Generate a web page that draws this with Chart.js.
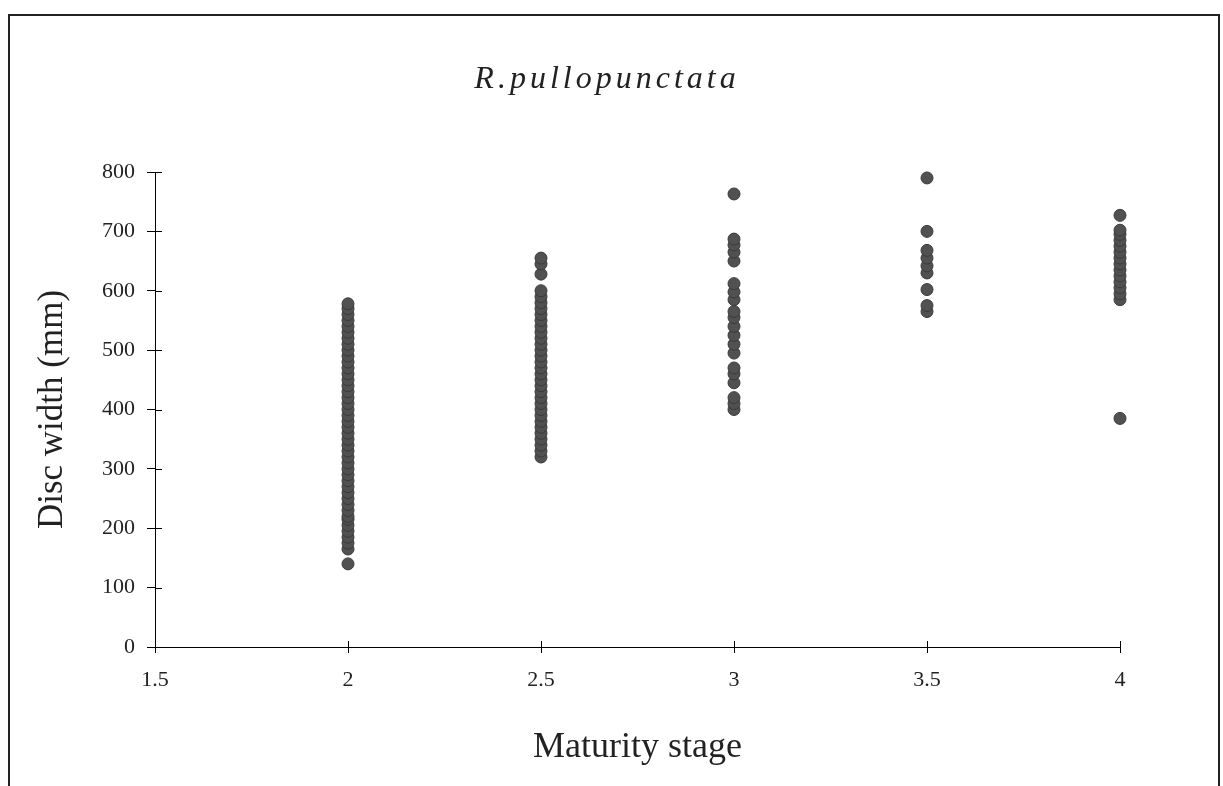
<!DOCTYPE html>
<html>
<head>
<meta charset="utf-8">
<style>
  html, body { margin: 0; padding: 0; background: #fff; }
  #wrap { width: 1223px; height: 786px; position: relative; }
</style>
<script src="https://cdn.jsdelivr.net/npm/chart.js@4"></script>
</head>
<body>
<div id="wrap"><canvas id="myChart" width="1223" height="786"></canvas></div>
<script>
// maturity stages (x) and disc widths (y)
let stages = [2, 2.5, 3, 3.5, 4]
let stage2 = [140, 165, 175, 185, 195, 205, 215, 220, 230, 240, 250, 260, 270, 280, 290, 300, 310, 320, 330, 340, 350, 360, 370, 380, 390, 400, 410, 420, 430, 440, 450, 460, 470, 480, 490, 500, 510, 520, 530, 540, 550, 560, 570, 578]
let stage25 = [320, 330, 340, 350, 360, 370, 380, 390, 400, 410, 420, 430, 440, 450, 460, 470, 480, 490, 500, 510, 520, 530, 540, 550, 560, 570, 580, 590, 600, 628, 645, 655]
let stage3 = [400, 410, 420, 445, 460, 470, 495, 510, 525, 540, 555, 565, 585, 598, 612, 650, 665, 677, 687, 763]
let stage35 = [565, 575, 602, 630, 642, 655, 668, 700, 790]
let stage4 = [385, 585, 595, 605, 615, 625, 635, 645, 655, 665, 675, 685, 695, 702, 727]

let xTicks = [1.5, 2, 2.5, 3, 3.5, 4]
let yTicks = [0, 100, 200, 300, 400, 500, 600, 700, 800]
let chartTitle = 'R.pullopunctata'

let groups = [stage2, stage25, stage3, stage35, stage4]
let points = []
groups.forEach((vals, i) => {
  for (let v of vals) points.push({ x: stages[i], y: v })
})

const serif = "'Liberation Serif', 'DejaVu Serif', 'Times New Roman', serif"

// ticks in the picture cross the axis line, chart.js only draws the outer half
// title drawn by hand so it can sit off the chart-area centre with wide spacing
const extras = {
  id: 'extras',
  afterDraw(chart) {
    const c = chart.ctx
    const xs = chart.scales.x, ys = chart.scales.y
    c.save()
    c.strokeStyle = '#000'
    c.lineWidth = 1
    c.beginPath()
    for (let t of xTicks) {
      let px = Math.round(xs.getPixelForValue(t)) + 0.5
      c.moveTo(px, ys.bottom - 6)
      c.lineTo(px, ys.bottom)
    }
    for (let t of yTicks) {
      let py = Math.round(ys.getPixelForValue(t)) + 0.5
      c.moveTo(xs.left, py)
      c.lineTo(xs.left + 7, py)
    }
    c.stroke()
    // outer frame of the figure
    c.lineWidth = 2
    c.strokeStyle = '#222'
    c.strokeRect(9, 15, 1210, 800)
    // title
    c.fillStyle = '#222'
    c.font = 'italic 32px ' + serif
    c.letterSpacing = '4px'
    c.textAlign = 'center'
    c.textBaseline = 'middle'
    c.fillText(chartTitle, 607, 80)
    c.restore()
  }
}

let ctx = document.getElementById('myChart').getContext('2d')
let chart = new Chart(ctx, {
  type: 'scatter',
  data: {
    datasets: [{
      data: points,
      backgroundColor: '#515151',
      borderColor: '#3a3a3a',
      borderWidth: 1,
      pointRadius: 6,
      pointHoverRadius: 6,
      clip: false
    }]
  },
  options: {
    responsive: false,
    animation: false,
    events: [],
    layout: { padding: { left: 0, right: 103, top: 172, bottom: 0 } },
    plugins: {
      legend: { display: false },
      tooltip: { enabled: false },
      title: { display: false }
    },
    scales: {
      x: {
        type: 'linear',
        min: 1.5,
        max: 4,
        afterBuildTicks: s => { s.ticks = xTicks.map(v => ({ value: v })) },
        afterFit: s => { s.height = 139 },
        border: { display: true, color: '#000', width: 1 },
        grid: { drawOnChartArea: false, tickLength: 6, color: '#000' },
        ticks: {
          color: '#222', padding: 14, maxRotation: 0,
          font: { family: serif, size: 22 },
          callback: v => String(v)
        },
        title: {
          display: true,
          text: 'Maturity stage',
          color: '#222',
          font: { family: serif, size: 36 },
          padding: { top: 0, bottom: 17 }
        }
      },
      y: {
        min: 0,
        max: 800,
        afterBuildTicks: s => { s.ticks = yTicks.map(v => ({ value: v })) },
        afterFit: s => { s.width = 155 },
        border: { display: true, color: '#000', width: 1 },
        grid: { drawOnChartArea: false, tickLength: 8, color: '#000' },
        ticks: { color: '#222', padding: 12, font: { family: serif, size: 22 } },
        title: {
          display: true,
          text: 'Disc width (mm)',
          color: '#222',
          font: { family: serif, size: 35 },
          padding: { top: 32, bottom: 0 }
        }
      }
    }
  },
  plugins: [extras]
})
</script>
</body>
</html>
